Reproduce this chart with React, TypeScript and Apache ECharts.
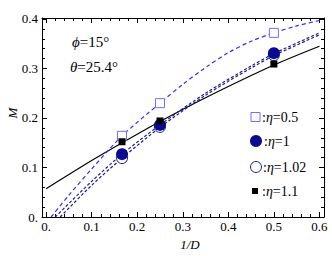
import React, { useEffect, useRef } from "react";
import * as echarts from "echarts";

// x tick values and labels
const xMajor = [0, 0.1, 0.2, 0.3, 0.4, 0.5, 0.6];
const xMinor = [0.02, 0.04, 0.06, 0.08, 0.12, 0.14, 0.16, 0.18, 0.22, 0.24, 0.26, 0.28, 0.32, 0.34, 0.36, 0.38, 0.42, 0.44, 0.46, 0.48, 0.52, 0.54, 0.56, 0.58];
const yMajor = [0, 0.1, 0.2, 0.3, 0.4];
const yMinor = [0.02, 0.04, 0.06, 0.08, 0.12, 0.14, 0.16, 0.18, 0.22, 0.24, 0.26, 0.28, 0.32, 0.34, 0.36, 0.38];

// measured points (x = 1/D)
const dataX = [1 / 6, 0.25, 0.5];
const eta05 = [0.164, 0.23, 0.372];
const eta1 = [0.127, 0.186, 0.331];
const eta102 = [0.119, 0.182, 0.327];
const eta11 = [0.152, 0.194, 0.309];

// fitted curves
const curve05X = [0.011, 0.05, 0.1, 0.167, 0.25, 0.3, 0.35, 0.4, 0.45, 0.5, 0.55, 0.6];
const curve05Y = [0, 0.044, 0.097, 0.164, 0.23, 0.268, 0.302, 0.332, 0.355, 0.372, 0.386, 0.397];
const curve1X = [0.02, 0.1, 0.167, 0.25, 0.35, 0.45, 0.5, 0.6];
const curve1Y = [0, 0.072, 0.127, 0.186, 0.25, 0.305, 0.33, 0.372];
const curve102X = [0.031, 0.1, 0.167, 0.25, 0.35, 0.45, 0.5, 0.6];
const curve102Y = [0, 0.064, 0.119, 0.181, 0.246, 0.301, 0.326, 0.368];
const curve11X = [0, 0.1, 0.167, 0.25, 0.35, 0.5, 0.6];
const curve11Y = [0.057, 0.114, 0.15, 0.193, 0.241, 0.307, 0.345];

const SERIF = "'Liberation Serif', 'DejaVu Serif', serif";
const BLUE = "#2f2fff";
const LIGHTBLUE = "#6f6fff";
const NAVY = "#1c1c8c";
const NAVYFILL = "#0a0a90";

const zip = (xs: number[], ys: number[]) => xs.map((x, i) => [x, ys[i]]);
const fmt = (v: number) => (Math.abs(v) < 1e-9 ? "0." : v.toFixed(1));

export default function App() {
  const ref = useRef<HTMLDivElement>(null);
  useEffect(() => {
    if (!ref.current) return;
    const chart = echarts.init(ref.current, undefined, { renderer: "svg" });
    const xBase = (pos: "bottom" | "top", ticks: number[], len: number, labels: boolean, line: boolean) => ({
      type: "value" as const,
      position: pos,
      min: -0.009,
      max: 0.61,
      axisLine: { show: line, onZero: false, lineStyle: { color: "#000", width: 1 } },
      axisTick: { show: true, inside: true, length: len, customValues: ticks, lineStyle: { color: "#000", width: 1 } },
      axisLabel: labels
        ? { show: true, customValues: xMajor, formatter: fmt, color: "#000", fontFamily: SERIF, fontSize: 13, margin: 3 }
        : { show: false },
      splitLine: { show: false },
    });
    const yBase = (pos: "left" | "right", ticks: number[], len: number, labels: boolean, line: boolean) => ({
      type: "value" as const,
      position: pos,
      min: 0,
      max: 0.402,
      axisLine: { show: line, onZero: false, lineStyle: { color: "#000", width: 1 } },
      axisTick: { show: true, inside: true, length: len, customValues: ticks, lineStyle: { color: "#000", width: 1 } },
      axisLabel: labels
        ? { show: true, customValues: yMajor, formatter: fmt, color: "#000", fontFamily: SERIF, fontSize: 13, margin: 4 }
        : { show: false },
      splitLine: { show: false },
    });
    const line = (name: string, xs: number[], ys: number[], color: string, type: any, width = 1.2) => ({
      name,
      type: "line",
      data: zip(xs, ys),
      smooth: 0.3,
      showSymbol: false,
      symbol: "none",
      lineStyle: { color, width, type },
      z: 2,
    });
    const rich = {
      i: { fontFamily: SERIF, fontStyle: "italic", fontSize: 14, fill: "#000" },
      j: { fontFamily: SERIF, fontStyle: "italic", fontSize: 15, fill: "#000" },
    };
    const legText = (x: number, y: number, t: string) => ({
      type: "text",
      x,
      y,
      style: {
        text: ":{i|η}=" + t,
        rich,
        font: "14px " + SERIF,
        fill: "#000",
        textVerticalAlign: "middle",
      },
    });
    chart.setOption({
      animation: false,
      grid: { left: 42, right: 8, top: 18, bottom: 39 },
      xAxis: [
        xBase("bottom", xMajor, 5, true, true),
        xBase("bottom", xMinor, 3, false, false),
        xBase("top", xMajor, 5, false, true),
        xBase("top", xMinor, 3, false, false),
      ],
      yAxis: [
        yBase("left", yMajor, 5, true, true),
        yBase("left", yMinor, 3, false, false),
        yBase("right", yMajor, 5, false, true),
        yBase("right", yMinor, 3, false, false),
      ],
      series: [
        line("c11", curve11X, curve11Y, "#000", "solid", 1.2),
        line("c05", curve05X, curve05Y, BLUE, [4, 3], 1.2),
        line("c1", curve1X, curve1Y, NAVY, [3, 2], 1.2),
        line("c102", curve102X, curve102Y, NAVY, [3, 2], 1.2),
        {
          name: "η=0.5",
          type: "scatter",
          data: zip(dataX, eta05),
          symbol: "rect",
          symbolSize: 9,
          itemStyle: { color: "#fff", borderColor: LIGHTBLUE, borderWidth: 1, opacity: 1 },
          z: 3,
        },
        {
          name: "η=1.02",
          type: "scatter",
          data: zip(dataX, eta102),
          symbol: "circle",
          symbolSize: 11,
          itemStyle: { color: "#fff", borderColor: NAVY, borderWidth: 1, opacity: 1 },
          z: 3,
        },
        {
          name: "η=1",
          type: "scatter",
          data: zip(dataX, eta1),
          symbol: "circle",
          symbolSize: 12,
          itemStyle: { color: NAVYFILL, opacity: 1 },
          z: 4,
        },
        {
          name: "η=1.1",
          type: "scatter",
          data: zip(dataX, eta11),
          symbol: "rect",
          symbolSize: 7,
          itemStyle: { color: "#000", opacity: 1 },
          z: 5,
        },
      ],
      graphic: [
        {
          type: "text",
          x: 72,
          y: 42,
          style: { text: "{j|ϕ}=15°", rich, font: "15px " + SERIF, fill: "#000", textVerticalAlign: "middle" },
        },
        {
          type: "text",
          x: 70,
          y: 67,
          style: { text: "{j|θ}=25.4°", rich, font: "15px " + SERIF, fill: "#000", textVerticalAlign: "middle" },
        },
        {
          type: "text",
          x: 12,
          y: 113,
          rotation: Math.PI / 2,
          style: { text: "M", font: "italic 13px " + SERIF, fill: "#000", textAlign: "center", textVerticalAlign: "middle" },
        },
        {
          type: "text",
          x: 190,
          y: 244,
          style: { text: "1/D", font: "italic 13px " + SERIF, fill: "#000", textAlign: "center", textVerticalAlign: "middle" },
        },
        { type: "rect", shape: { x: 251, y: 112.5, width: 9, height: 9 }, style: { fill: "#fff", stroke: LIGHTBLUE, lineWidth: 1 } },
        legText(262, 117, "0.5"),
        { type: "circle", shape: { cx: 256, cy: 141, r: 6 }, style: { fill: NAVYFILL } },
        legText(264, 141, "1"),
        { type: "circle", shape: { cx: 256, cy: 167, r: 5.5 }, style: { fill: "#fff", stroke: NAVY, lineWidth: 1 } },
        legText(263, 167, "1.02"),
        { type: "rect", shape: { x: 252, y: 188, width: 6, height: 6 }, style: { fill: "#000" } },
        legText(262, 191, "1.1"),
      ],
    });
    return () => chart.dispose();
  }, []);
  return <div ref={ref} style={{ width: 332, height: 256, position: "absolute", left: 0, top: 0 }} />;
}
